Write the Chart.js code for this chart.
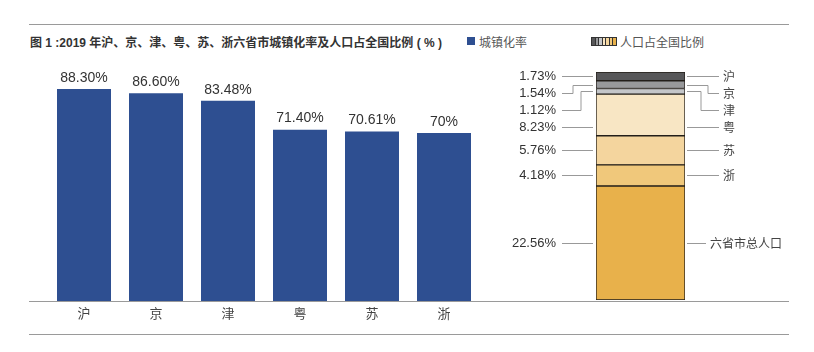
<!DOCTYPE html>
<html>
<head>
<meta charset="utf-8">
<script src="https://cdn.jsdelivr.net/npm/chart.js@4"></script>
<style>
  body { margin: 0; background: #fff; width: 814px; height: 352px; position: relative; overflow: hidden;
         font-family: 'Liberation Sans', 'Noto Sans CJK SC', sans-serif; }
  .rule { position: absolute; left: 29px; width: 760px; height: 1px; background: #9a9a9a; }
  #title { position: absolute; left: 30px; top: 33px; font-size: 12px; font-weight: bold; color: #333; white-space: nowrap; }
  .leg { position: absolute; top: 33px; font-size: 12px; color: #555; white-space: nowrap; }
  #legBlue { position: absolute; left: 467px; top: 37px; width: 8px; height: 8px; background: #2e4f91; }
  #legStack { position: absolute; left: 591px; top: 37px; width: 24px; height: 7px; display: flex; border: 1px solid #333; }
  #legStack span { flex: 1; border-right: 1px solid #333; }
  #legStack span:last-child { border-right: none; }
  canvas { position: absolute; top: 0; }
</style>
</head>
<body>
<div class="rule" style="top:24px"></div>
<div id="title">图 1 :2019 年沪、京、津、粤、苏、浙六省市城镇化率及人口占全国比例 ( % )</div>
<div id="legBlue"></div>
<div class="leg" style="left:479px">城镇化率</div>
<div id="legStack"></div>
<div class="leg" style="left:620px">人口占全国比例</div>
<canvas id="rateChart" width="500" height="352" style="left:0"></canvas>
<canvas id="popChart" width="314" height="352" style="left:500px"></canvas>
<div class="rule" style="top:301px"></div>
<div class="rule" style="top:334px"></div>
<script>
const cities = ['沪', '京', '津', '粤', '苏', '浙'];
const urbanRate = [88.30, 86.60, 83.48, 71.40, 70.61, 70];
const rateLabels = ['88.30%', '86.60%', '83.48%', '71.40%', '70.61%', '70%'];

const popShare = [1.73, 1.54, 1.12, 8.23, 5.76, 4.18];
const popShareLabels = ['1.73%', '1.54%', '1.12%', '8.23%', '5.76%', '4.18%'];
const popTotalName = '六省市总人口';
const popTotal = 22.56;
const popTotalLabel = '22.56%';

const cityColors = ['#575759', '#98999b', '#c4c6c9', '#f8e6c4', '#f4d59e', '#f0c87b'];
const totalColor = '#e8b14b';

// legend swatch
const sw = document.getElementById('legStack');
cityColors.concat([totalColor]).forEach(c => {
  const s = document.createElement('span');
  s.style.background = c;
  sw.appendChild(s);
});

Chart.defaults.font.family = "'Liberation Sans', 'Noto Sans CJK SC', sans-serif";
Chart.defaults.animation = false;

const barValueLabels = {
  id: 'barValueLabels',
  afterDatasetsDraw(chart) {
    const ctx = chart.ctx;
    ctx.save();
    ctx.font = "14px 'Liberation Sans', sans-serif";
    ctx.fillStyle = '#333';
    ctx.textAlign = 'center';
    ctx.textBaseline = 'middle';
    chart.getDatasetMeta(0).data.forEach((bar, i) => {
      ctx.fillText(rateLabels[i], bar.x, bar.y - 11);
    });
    ctx.restore();
  }
};

new Chart(document.getElementById('rateChart'), {
  type: 'bar',
  data: {
    labels: cities,
    datasets: [{
      label: '城镇化率',
      data: urbanRate,
      backgroundColor: '#2e4f91',
      barPercentage: 0.75,
      categoryPercentage: 1
    }]
  },
  options: {
    responsive: false,
    layout: { padding: { left: 48, right: 20, top: 61, bottom: 18 } },
    plugins: { legend: { display: false }, tooltip: { enabled: false } },
    scales: {
      x: {
        grid: { display: false, drawTicks: false },
        border: { display: false },
        ticks: { color: '#444', font: { size: 13 }, padding: 6 },
        afterFit: s => { s.height = 33; }
      },
      y: { display: false, min: 0, max: 100 }
    }
  },
  plugins: [barValueLabels]
});

// stack: bottom = total, then 浙 .. 沪 on top
const stackNames = [popTotalName].concat(cities.slice().reverse());
const stackValues = [popTotal].concat(popShare.slice().reverse());
const stackLabels = [popTotalLabel].concat(popShareLabels.slice().reverse());
const stackColors = [totalColor].concat(cityColors.slice().reverse());

const leaderLines = {
  id: 'leaderLines',
  afterDatasetsDraw(chart) {
    const ctx = chart.ctx;
    const area = chart.chartArea;
    // top to bottom
    const items = [];
    for (let d = chart.data.datasets.length - 1; d >= 0; d--) {
      const bar = chart.getDatasetMeta(d).data[0];
      const top = Math.min(bar.y, bar.base), bot = Math.max(bar.y, bar.base);
      items.push({ top, bot, mid: (top + bot) / 2, name: stackNames[d], label: stackLabels[d] });
    }
    let prev = -Infinity;
    items.forEach(it => {
      it.pos = Math.max(it.mid, prev + 17);
      prev = it.pos;
    });
    ctx.save();
    ctx.strokeStyle = '#999';
    ctx.lineWidth = 1;
    const lx0 = area.left - 34, lx1 = area.left - 3;
    const rx0 = area.right + 2, rx1 = area.right + 34;
    let bent = 0;
    items.forEach(it => {
      const y = Math.round(it.pos) + 0.5;
      const m = Math.round(it.mid) + 0.5;
      const inside = it.pos > it.top + 2 && it.pos < it.bot - 2;
      const isTotal = it.name === popTotalName;
      const rEnd = isTotal ? area.right + 21 : rx1;
      ctx.beginPath();
      if (inside) {
        ctx.moveTo(lx0, y); ctx.lineTo(lx1, y);
        ctx.moveTo(rx0, y); ctx.lineTo(rEnd, y);
      } else {
        const ex = lx0 + 11 + bent * 8;
        const erx = rx1 - 11 - bent * 7;
        ctx.moveTo(lx0, y); ctx.lineTo(ex, y); ctx.lineTo(ex, m); ctx.lineTo(lx1, m);
        ctx.moveTo(rx0, m); ctx.lineTo(erx, m); ctx.lineTo(erx, y); ctx.lineTo(rEnd, y);
        bent++;
      }
      ctx.stroke();
      ctx.textBaseline = 'middle';
      ctx.font = "13px 'Liberation Sans', sans-serif";
      ctx.fillStyle = '#333';
      ctx.textAlign = 'right';
      ctx.fillText(it.label, lx0 - 6, it.pos);
      ctx.font = "12px 'Noto Sans CJK SC', sans-serif";
      ctx.fillStyle = '#444';
      ctx.textAlign = 'left';
      ctx.fillText(it.name, rEnd + 4, it.pos);
    });
    ctx.restore();
  }
};

new Chart(document.getElementById('popChart'), {
  type: 'bar',
  data: {
    labels: ['人口占全国比例'],
    datasets: stackValues.map((v, i) => ({
      label: stackNames[i],
      data: [v],
      backgroundColor: stackColors[i],
      borderColor: '#231f1a',
      borderWidth: 1,
      borderSkipped: false,
      barPercentage: 1,
      categoryPercentage: 1
    }))
  },
  options: {
    responsive: false,
    layout: { padding: { left: 96, right: 129, top: 72, bottom: 52 } },
    plugins: { legend: { display: false }, tooltip: { enabled: false } },
    scales: {
      x: { display: false, stacked: true },
      y: { display: false, stacked: true, min: 0, max: stackValues.reduce((a, b) => a + b, 0) }
    }
  },
  plugins: [leaderLines]
});
</script>
</body>
</html>
